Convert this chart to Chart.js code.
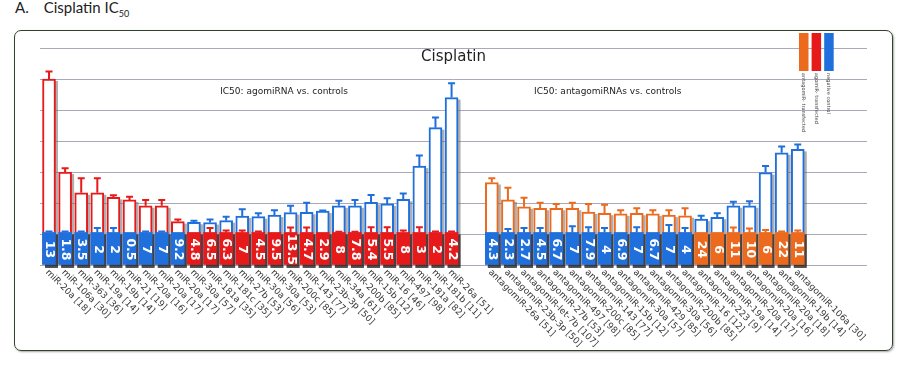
<!DOCTYPE html>
<html>
<head>
<meta charset="utf-8">
<script src="https://cdn.jsdelivr.net/npm/chart.js@4.4.1/dist/chart.umd.min.js"></script>
<style>
  html, body { margin: 0; padding: 0; background: #fff; }
  #wrap { position: relative; width: 905px; height: 369px; overflow: hidden; }
  #head { position: absolute; left: 15px; top: -2px; font: 15px Lato, "Open Sans", sans-serif; color: #222; }
  #head .gap { display: inline-block; width: 15px; }
  #head sub { font-size: 9px; }
  #frame { position: absolute; left: 14px; top: 30px; width: 877px; height: 319px;
    border: 1.5px solid #34432f; border-radius: 7px; box-shadow: 1px 1px 2px rgba(0,0,0,0.35); }
  canvas { position: absolute; left: 0; top: 0; }
</style>
</head>
<body>
<div id="wrap">
  <div id="head">A.<span class="gap"></span>Cisplatin IC<sub>50</sub></div>
  <div id="frame"></div>
  <canvas id="c" width="905" height="369"></canvas>
</div>
<script>
// Cisplatin IC50: agomiRNA / antagomiRNA vs negative controls (relative IC50)

const leftLabels = [
  'miR-20a [18]', 'miR-106a [30]', 'miR-363 [36]', 'miR-19a [14]', 'miR-19b [14]',
  'miR-21 [19]', 'miR-20a [16]', 'miR-20a [17]', 'miR-20a [17]', 'miR-30a [57]',
  'miR-181a [35]', 'miR-181c [35]', 'miR-27b [53]', 'miR-30a [56]', 'miR-30a [53]',
  'miR-200c [85]', 'miR-143 [77]', 'miR-23b-3p [50]', 'miR-34a [61]', 'miR-200b [85]',
  'miR-15b [12]', 'miR-16 [46]', 'miR-497 [98]', 'miR-181a [82]', 'miR-181b [11]',
  'miR-26a [51]'
];
const rightLabels = [
  'antagomiR-26a [51]', 'antagomiR-23b-3p [50]', 'antagomiR-let-7b [107]', 'antagomiR-27b [53]',
  'antagomiR-497 [98]', 'antagomiR-200c [85]', 'antagomiR-143 [77]', 'antagomiR-15b [12]',
  'antagomiR-30a [57]', 'antagomiR-429 [85]', 'antagomiR-30a [56]', 'antagomiR-200b [85]',
  'antagomiR-16 [12]', 'antagomiR-223 [9]', 'antagomiR-19a [14]', 'antagomiR-20a [17]',
  'antagomiR-20a [16]', 'antagomiR-20a [18]', 'antagomiR-19b [14]', 'antagomiR-106a [30]'
];

// numbers printed on the filled blocks
const leftBarText = ['13', '1.8', '3.5', '2', '2', '0.5', '7', '7', '9.2', '4.8', '6.5', '6.3', '7',
  '4.5', '9.5', '13.5', '4.7', '2.9', '8', '7.8', '5.4', '5.5', '8', '3', '2', '4.2'];
const rightBarText = ['4.3', '2.3', '2.7', '4.5', '6.7', '7', '7.9', '4', '6.9', '7', '6.7', '7', '4',
  '24', '6', '11', '10', '6', '22', '11'];

// relative IC50 and upper error, agomiR-transfected vs negative control
const agomirIC50 = [6.0, 3.0, 2.33, 2.33, 2.18, 2.1, 1.91, 1.91, 1.4,
  1.05, 1.05, 1.05, 1.05, 1.05, 1.05, 1.05, 1.05, 1.05, 1.05, 1.05, 1.05, 1.05, 1.05, 1.05, 1.05, 1.05];
const agomirErr = [0.24, 0.12, 0.47, 0.47, 0.07, 0.1, 0.19, 0.19, 0.07,
  0, 0.14, 0.06, 0.06, 0.03, 0, 0.16, 0.16, 0, 0.02, 0.02, 0.17, 0.17, 0.06, 0.17, 0.03, 0.03];
const agomirCtrlIC50 = [1.05, 1.05, 1.05, 1.05, 1.05, 1.05, 1.05, 1.05, 1.05,
  1.38, 1.37, 1.43, 1.58, 1.56, 1.61, 1.69, 1.7, 1.74, 1.91, 1.91, 2.02, 1.97, 2.12, 3.19, 4.43, 5.4];
const agomirCtrlErr = [0.03, 0.03, 0.03, 0.14, 0.14, 0, 0.03, 0.03, 0,
  0.05, 0.1, 0.13, 0.22, 0.11, 0.16, 0.22, 0.31, 0.02, 0.16, 0.19, 0.24, 0.18, 0.19, 0.34, 0.33, 0.46];

// relative IC50 and upper error, antagomiR-transfected vs negative control
const antagomirIC50 = [2.66, 2.1, 1.88, 1.83, 1.83, 1.83, 1.71, 1.67, 1.65, 1.67, 1.65, 1.61, 1.59,
  1.05, 1.05, 1.05, 1.05, 1.05, 1.05, 1.05];
const antagomirErr = [0.14, 0.39, 0.29, 0.18, 0.14, 0.18, 0.26, 0.27, 0.12, 0.16, 0.12, 0.16, 0.24,
  0, 0, 0.16, 0.13, 0.08, 0.03, 0.06];
const antagomirCtrlIC50 = [1.05, 1.05, 1.05, 1.05, 1.05, 1.05, 1.05, 1.05, 1.05, 1.05, 1.05, 1.05, 1.05,
  1.48, 1.54, 1.91, 1.91, 2.98, 3.62, 3.73];
const antagomirCtrlErr = [0, 0.11, 0.14, 0.14, 0, 0.2, 0.17, 0.14, 0, 0.17, 0, 0.24, 0.14,
  0.11, 0.13, 0.13, 0.15, 0.21, 0.2, 0.16];

const seriesNames = ['antagomiR- transfected', 'agomiR- transfected', 'negative control'];
const groupNotes = ['IC50: agomiRNA vs. controls', 'IC50: antagomiRNAs vs. controls'];
const yTicks = [0, 1, 2, 3, 4, 5, 6, 7];

const ORANGE = '#ec6a1e', RED = '#e61a1a', BLUE = '#1f6fdc';
const seriesColors = [ORANGE, RED, BLUE];
const RIGHT_START = 27.5;   // x position of the first antagomiR bar (gap between groups)

// one record per bar position; the higher of the pair is drawn outlined, the lower filled
const bars = [];
function addBar(x, label, text, t, tErr, tColor, c, cErr) {
    const tHigh = t >= c;
    bars.push({
        x: x, label: label, text: text,
        hi: tHigh ? t : c, hiErr: tHigh ? tErr : cErr, hiColor: tHigh ? tColor : BLUE,
        lo: tHigh ? c : t, loErr: tHigh ? cErr : tErr, loColor: tHigh ? BLUE : tColor
    });
}
leftLabels.forEach(function (lab, i) {
    addBar(i, lab, leftBarText[i], agomirIC50[i], agomirErr[i], RED, agomirCtrlIC50[i], agomirCtrlErr[i]);
});
rightLabels.forEach(function (lab, j) {
    addBar(RIGHT_START + j, lab, rightBarText[j], antagomirIC50[j], antagomirErr[j], ORANGE,
        antagomirCtrlIC50[j], antagomirCtrlErr[j]);
});

function barRects(chart, dsIndex) {
    return chart.getDatasetMeta(dsIndex).data.map(function (el) {
        return el.getProps(['x', 'y', 'base', 'width'], true);
    });
}

const decorPlugin = {
    id: 'decor',
    beforeDatasetDraw: function (chart, args) {
        // drop shadows to the lower right of each bar
        const ctx = chart.ctx;
        const isBlock = args.index === 0;
        ctx.save();
        ctx.fillStyle = isBlock ? 'rgba(30,30,30,0.75)' : 'rgba(110,110,110,0.55)';
        barRects(chart, args.index).forEach(function (r) {
            ctx.fillRect(r.x - r.width / 2 + 2.5, r.y + 2, r.width, r.base - r.y + (isBlock ? 1.5 : 0));
        });
        ctx.restore();
    },
    afterDatasetsDraw: function (chart) {
        const ctx = chart.ctx;
        const xs = chart.scales.x, ys = chart.scales.y;
        const area = chart.chartArea;
        ctx.save();

        // error bars
        function errBar(x, v, e, color) {
            if (!(e > 0)) return;
            const y0 = ys.getPixelForValue(v), y1 = ys.getPixelForValue(v + e);
            ctx.strokeStyle = color;
            ctx.lineWidth = 2;
            ctx.beginPath();
            ctx.moveTo(x, y0); ctx.lineTo(x, y1);
            ctx.moveTo(x - 3.5, y1); ctx.lineTo(x + 3.5, y1);
            ctx.stroke();
        }
        const hiRects = barRects(chart, 1);
        bars.forEach(function (b, i) {
            const x = hiRects[i].x;
            errBar(x, b.hi, b.hiErr, b.hiColor);
            errBar(x, b.lo, b.loErr, b.loColor);
        });

        // numbers on the filled blocks
        const loRects = barRects(chart, 0);
        ctx.fillStyle = '#fff';
        ctx.font = 'bold 12.5px "DejaVu Sans", sans-serif';
        ctx.textAlign = 'center';
        ctx.textBaseline = 'middle';
        bars.forEach(function (b, i) {
            const r = loRects[i];
            ctx.save();
            ctx.translate(r.x + 0.5, (r.y + r.base) / 2 + 1);
            ctx.rotate(Math.PI / 2);
            ctx.fillText(b.text, 0, 0);
            ctx.restore();
        });

        // category labels, slanted down to the right
        ctx.fillStyle = '#3a3a3a';
        ctx.font = '9px "DejaVu Sans", sans-serif';
        ctx.textAlign = 'left';
        ctx.textBaseline = 'middle';
        bars.forEach(function (b) {
            ctx.save();
            ctx.translate(xs.getPixelForValue(b.x) - 2, area.bottom + 6);
            ctx.rotate(Math.PI / 4);
            ctx.fillText(b.label, 0, 0);
            ctx.restore();
        });

        // title and group notes
        ctx.fillStyle = '#222';
        ctx.textAlign = 'center';
        ctx.font = '15px "DejaVu Sans", sans-serif';
        ctx.fillText('Cisplatin', (area.left + area.right) / 2, area.top + 9);
        ctx.font = '9px "DejaVu Sans", sans-serif';
        ctx.fillText(groupNotes[0], xs.getPixelForValue(14.6), ys.getPixelForValue(5.6));
        ctx.fillText(groupNotes[1], xs.getPixelForValue(34.7), ys.getPixelForValue(5.6));

        // legend: vertical swatches with names written downwards
        ctx.font = '5px "DejaVu Sans", sans-serif';
        ctx.textAlign = 'left';
        seriesNames.forEach(function (name, k) {
            const sx = area.right - 68 + k * 12.6;
            ctx.fillStyle = seriesColors[k];
            ctx.fillRect(sx, 33, 9.5, 38);
            ctx.fillStyle = '#444';
            ctx.save();
            ctx.translate(sx + 4.5, 73);
            ctx.rotate(Math.PI / 2);
            ctx.fillText(name, 0, 0);
            ctx.restore();
        });
        ctx.restore();
    }
};

new Chart(document.getElementById('c'), {
    type: 'bar',
    data: {
        datasets: [
            {
                label: 'block',
                data: bars.map(function (b) { return { x: b.x, y: b.lo }; }),
                backgroundColor: bars.map(function (b) { return b.loColor; }),
                borderWidth: 0,
                barThickness: 13,
                grouped: false,
                order: 0
            },
            {
                label: 'outline',
                data: bars.map(function (b) { return { x: b.x, y: b.hi }; }),
                backgroundColor: '#ffffff',
                borderColor: bars.map(function (b) { return b.hiColor; }),
                borderWidth: 2,
                barThickness: 13,
                grouped: false,
                order: 1
            }
        ]
    },
    options: {
        responsive: false,
        animation: false,
        devicePixelRatio: 1,
        layout: { padding: { left: 40, right: 38, top: 48, bottom: 104 } },
        scales: {
            x: { type: 'linear', min: -0.56, max: 50.8, offset: false, display: false },
            y: {
                min: yTicks[0], max: yTicks[yTicks.length - 1],
                afterBuildTicks: function (scale) {
                    scale.ticks = yTicks.map(function (v) { return { value: v }; });
                },
                ticks: { display: false },
                border: { display: false },
                grid: { color: '#a9a9b9', lineWidth: 1, drawTicks: false }
            }
        },
        plugins: { legend: { display: false }, tooltip: { enabled: false }, title: { display: false } }
    },
    plugins: [decorPlugin]
});
</script>
</body>
</html>
